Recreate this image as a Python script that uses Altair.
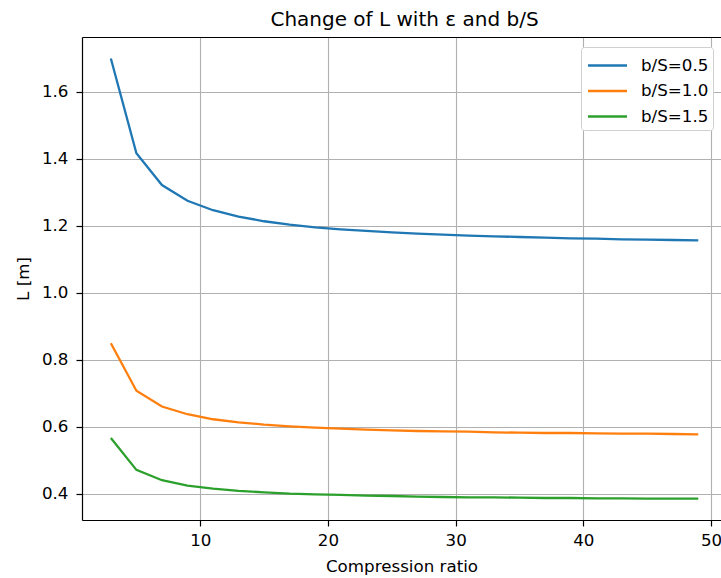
import altair as alt
import pandas as pd

compression_ratio = [3, 5, 7, 9, 11, 13, 15, 17, 19, 21, 23, 25, 27, 29, 31, 33, 35, 37, 39, 41, 43, 45, 47, 49]
series_labels = ["b/S=0.5", "b/S=1.0", "b/S=1.5"]
L_bs05 = [1.700, 1.417, 1.322, 1.275, 1.247, 1.228, 1.214, 1.204, 1.196, 1.190, 1.185, 1.181,
          1.177, 1.174, 1.171, 1.169, 1.167, 1.165, 1.163, 1.162, 1.160, 1.159, 1.158, 1.157]
L_bs10 = [0.850, 0.708, 0.661, 0.638, 0.623, 0.614, 0.607, 0.602, 0.598, 0.595, 0.592, 0.590,
          0.588, 0.587, 0.586, 0.584, 0.583, 0.582, 0.582, 0.581, 0.580, 0.580, 0.579, 0.578]
L_bs15 = [0.567, 0.472, 0.441, 0.425, 0.416, 0.409, 0.405, 0.401, 0.399, 0.397, 0.395, 0.394,
          0.392, 0.391, 0.390, 0.390, 0.389, 0.388, 0.388, 0.387, 0.387, 0.386, 0.386, 0.386]
colors = ["#1f77b4", "#ff7f0e", "#2ca02c"]

rows = []
for lab, vals in zip(series_labels, [L_bs05, L_bs10, L_bs15]):
    for x, y in zip(compression_ratio, vals):
        rows.append({"eps": x, "L": y, "series": lab})
df = pd.DataFrame(rows)

FONT = "DejaVu Sans"
FS = 16.7
xscale = alt.Scale(domain=[0.74, 50.78], nice=False, zero=False)
yscale = alt.Scale(domain=[0.3223, 1.764], nice=False, zero=False)

base = alt.Chart(df)

lines = base.mark_line(strokeWidth=2.3, clip=True).encode(
    x=alt.X("eps:Q", scale=xscale,
            axis=alt.Axis(title="Compression ratio", values=[10, 20, 30, 40, 50], format="d",
                          grid=True, gridColor="#b0b0b0", gridWidth=1.1,
                          domainColor="black", domainWidth=1.2, tickColor="black", tickSize=6,
                          tickWidth=1.2,
                          labelFont=FONT, labelFontSize=FS, labelColor="black", labelPadding=6,
                          titleFont=FONT, titleFontSize=FS, titleFontWeight="normal",
                          titleColor="black", titlePadding=10)),
    y=alt.Y("L:Q", scale=yscale,
            axis=alt.Axis(title="L [m]", values=[0.4, 0.6, 0.8, 1.0, 1.2, 1.4, 1.6], format=".1f",
                          grid=True, gridColor="#b0b0b0", gridWidth=1.1,
                          domainColor="black", domainWidth=1.2, tickColor="black", tickSize=6,
                          tickWidth=1.2,
                          labelFont=FONT, labelFontSize=FS, labelColor="black", labelPadding=8,
                          titleFont=FONT, titleFontSize=FS, titleFontWeight="normal",
                          titleColor="black", titlePadding=9)),
    color=alt.Color("series:N", scale=alt.Scale(domain=series_labels, range=colors),
                    legend=alt.Legend(title=None, orient="none", legendX=499, legendY=10,
                                      symbolType="M-1.5,0H1.5", symbolSize=676,
                                      symbolStrokeWidth=2.3, symbolOffset=8,
                                      labelFont=FONT, labelFontSize=FS, labelColor="black",
                                      rowPadding=1.5, padding=4, labelOffset=19,
                                      strokeColor="#d0d0d0", fillColor="white", cornerRadius=3)),
)

topframe = base.mark_line(opacity=0).encode(
    x=alt.X("eps:Q", scale=xscale,
            axis=alt.Axis(orient="top", labels=False, ticks=False, grid=False, title=None,
                          domainColor="black", domainWidth=1.2)),
    y=alt.Y("L:Q", scale=yscale),
    detail="series:N",
)

chart = alt.layer(lines, topframe).resolve_axis(x="independent").properties(
    width=639, height=483,
    title=alt.TitleParams("Change of L with ε and b/S", font=FONT, fontSize=20,
                          fontWeight="normal", color="black", anchor="middle", offset=7, dx=3),
    autosize=alt.AutoSizeParams(type="none"),
    padding={"left": 82, "top": 37, "right": 0, "bottom": 58},
).configure_view(stroke=None).configure(background="white")

chart.save("out.html", embed_options={"renderer": "svg", "actions": False})
